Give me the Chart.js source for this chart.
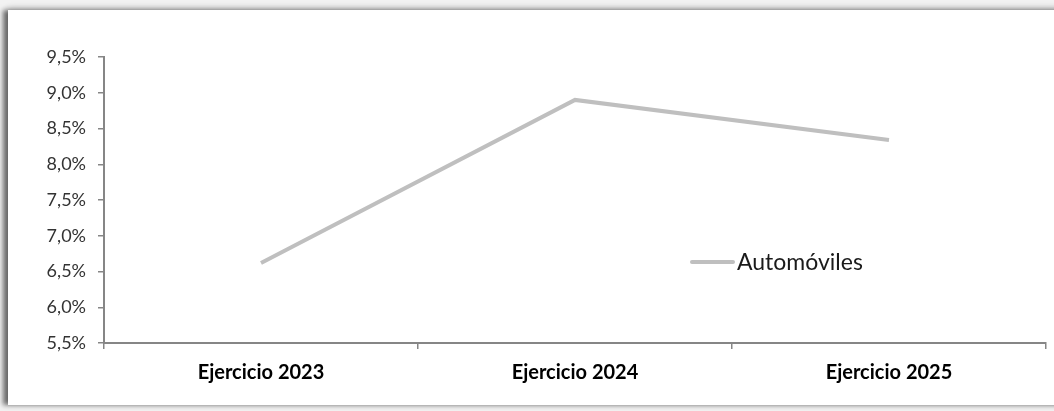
<!DOCTYPE html>
<html>
<head>
<meta charset="utf-8">
<script src="https://cdn.jsdelivr.net/npm/chart.js@4.4.1/dist/chart.umd.min.js"></script>
<style>
  html, body { margin: 0; padding: 0; width: 1054px; height: 411px; overflow: hidden; background: #f2f2f2; }
  #frame { position: absolute; left: 8px; top: 10px; width: 1060px; height: 395px; background: #ffffff;
           box-shadow: -5px 0px 5px rgba(0,0,0,0.55), 0px -3px 6px rgba(0,0,0,0.12); }
  #wrap { position: absolute; left: 0; top: 0; width: 1054px; height: 411px; }
</style>
</head>
<body>
<div id="frame"></div>
<div id="wrap"><canvas id="c" width="1054" height="411"></canvas></div>
<script>
const categories = ["Ejercicio 2023", "Ejercicio 2024", "Ejercicio 2025"];
const seriesName = "Automóviles";
const automoviles = [6.62, 8.9, 8.34];
const yTicks = [5.5, 6.0, 6.5, 7.0, 7.5, 8.0, 8.5, 9.0, 9.5];

const fontFamily = "Lato, 'Open Sans', 'Liberation Sans', sans-serif";

const innerLegend = {
  id: 'innerLegend',
  afterDatasetsDraw(chart) {
    const ctx = chart.ctx;
    const ds = chart.data.datasets[0];
    const x0 = 692, y = 262;
    ctx.save();
    ctx.strokeStyle = ds.borderColor;
    ctx.lineWidth = 4;
    ctx.lineCap = 'round';
    ctx.beginPath();
    ctx.moveTo(x0, y);
    ctx.lineTo(x0 + 41, y);
    ctx.stroke();
    ctx.fillStyle = '#1a1a1a';
    ctx.font = "23px " + fontFamily;
    ctx.textBaseline = 'middle';
    ctx.textAlign = 'left';
    ctx.fillText(ds.label, x0 + 45, y + 1);
    ctx.restore();
  }
};

new Chart(document.getElementById('c'), {
  type: 'line',
  data: {
    labels: categories,
    datasets: [{
      label: seriesName,
      data: automoviles,
      borderColor: '#bfbfbf',
      borderWidth: 4,
      pointRadius: 0,
      pointHoverRadius: 0,
      tension: 0,
      fill: false
    }]
  },
  options: {
    responsive: false,
    animation: false,
    events: [],
    layout: { padding: { left: 0, right: 8, top: 57, bottom: 0 } },
    plugins: { legend: { display: false }, tooltip: { enabled: false } },
    scales: {
      x: {
        type: 'category',
        offset: true,
        grid: { offset: true, drawOnChartArea: false, drawTicks: true, tickLength: 6, color: '#868686', lineWidth: 1.5 },
        border: { display: true, color: '#868686', width: 2 },
        ticks: { color: '#000', font: { family: fontFamily, size: 20, weight: 'bold' }, padding: 12, maxRotation: 0 },
        afterFit(scale) { scale.height = 68; }
      },
      y: {
        min: 5.5, max: 9.5,
        afterBuildTicks(scale) { scale.ticks = yTicks.map(v => ({ value: v })); },
        grid: { drawOnChartArea: false, drawTicks: true, tickLength: 6, color: '#868686', lineWidth: 1.5 },
        border: { display: true, color: '#868686', width: 2 },
        ticks: {
          color: '#333',
          font: { family: fontFamily, size: 18 },
          padding: 12,
          callback: v => v.toFixed(1).replace('.', ',') + '%'
        },
        afterFit(scale) { scale.width = 104; }
      }
    }
  },
  plugins: [innerLegend]
});
</script>
</body>
</html>
